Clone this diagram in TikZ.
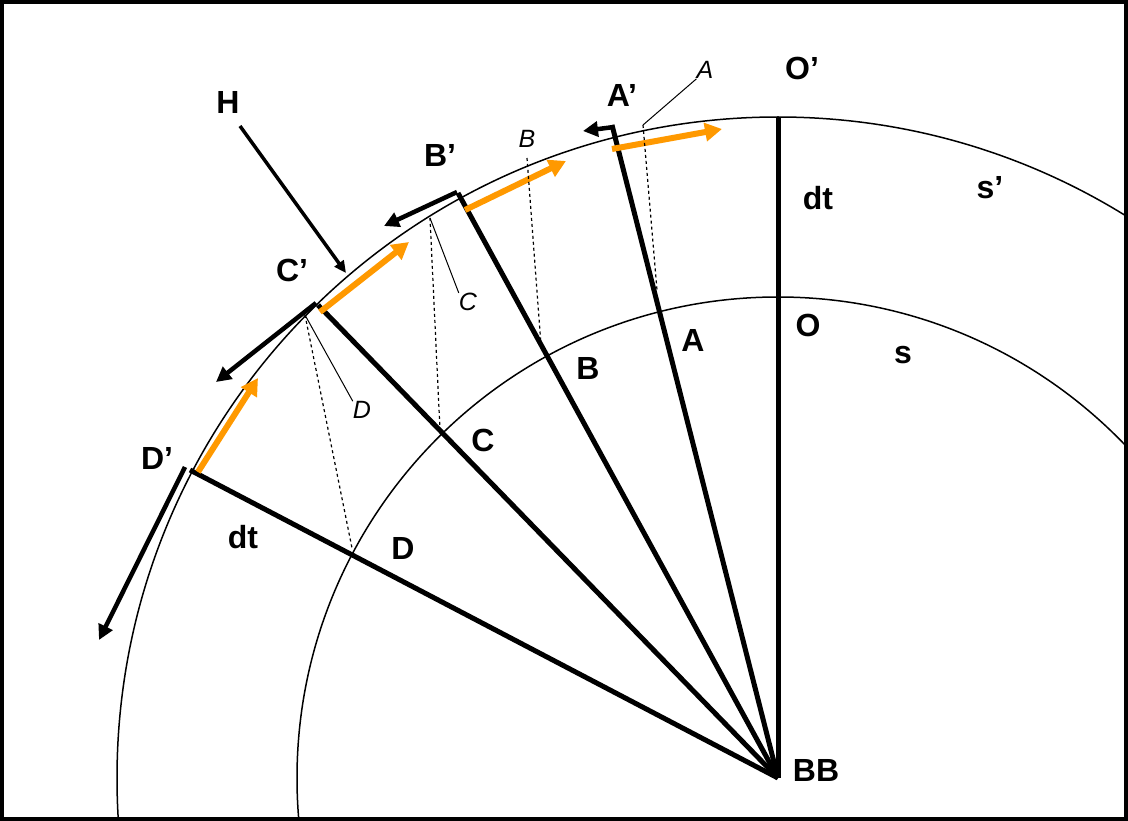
\documentclass[tikz,border=0pt]{standalone}
\usepackage{fontspec}
\setmainfont{Liberation Sans}
\usetikzlibrary{arrows.meta}
\begin{document}
\begin{tikzpicture}[x=1pt,y=-1pt,
 lab/.style={font=\fontsize{32}{36}\selectfont\bfseries,inner sep=0pt},
 ilab/.style={font=\fontsize{25}{28}\selectfont\itshape,inner sep=0pt},
 rad/.style={line width=5pt},
 blk/.style={line width=4.5pt,-{Triangle[length=15pt,width=15pt]}},
 org/.style={line width=6pt,draw={rgb,255:red,255;green,153;blue,0},-{Triangle[length=17pt,width=18pt]}},
 dsh/.style={dashed,line width=1.2pt},
 thin/.style={line width=1pt}]
\useasboundingbox (0,0) rectangle (1128,821);
\coordinate (BB) at (778,778);
\begin{scope}
\clip (0,0) rectangle (1128,821);
\draw[line width=1.5pt] (BB) circle[radius=661];
\draw[line width=1.5pt] (BB) circle[radius=481];
\end{scope}
\draw[line width=4pt] (2,2) rectangle (1126,819);
\coordinate (Op) at (778,117);
\coordinate (Ap) at (612,125);
\coordinate (Bp) at (458,193);
\coordinate (Cp) at (318,305);
\coordinate (Dp) at (190,470);
\draw[rad] (BB) -- (Op);
\draw[rad] (BB) -- (Ap);
\draw[rad] (BB) -- (Bp);
\draw[rad] (BB) -- (Cp);
\draw[rad] (BB) -- (Dp);
\coordinate (a1) at (614,127); \coordinate (a2) at (583,131);
\coordinate (b1) at (457,192); \coordinate (b2) at (384,226);
\coordinate (c1) at (316,303); \coordinate (c2) at (216,382);
\coordinate (d1) at (185,467); \coordinate (d2) at (99,640);
\draw[blk] (a1) -- (a2);
\draw[blk] (b1) -- (b2);
\draw[blk] (c1) -- (c2);
\draw[blk] (d1) -- (d2);
\coordinate (oa1) at (612,149); \coordinate (oa2) at (722,129);
\coordinate (ob1) at (465,210); \coordinate (ob2) at (566,161);
\coordinate (oc1) at (320,312); \coordinate (oc2) at (409,242);
\coordinate (od1) at (198,472); \coordinate (od2) at (258,378);
\draw[org] (oa1) -- (oa2);
\draw[org] (ob1) -- (ob2);
\draw[org] (oc1) -- (oc2);
\draw[org] (od1) -- (od2);
\coordinate (pa) at (643,125); \coordinate (qa) at (657,290);
\coordinate (pb) at (527,158); \coordinate (qb) at (541,345);
\coordinate (pc) at (430,218); \coordinate (qc) at (440,430);
\coordinate (pd) at (305,315); \coordinate (qd) at (352,548);
\draw[dsh] (pa) -- (qa);
\draw[dsh] (pb) -- (qb);
\draw[dsh] (pc) -- (qc);
\draw[dsh] (pd) -- (qd);
\node[lab] (lOp) at (802,68) {O’};
\node[lab] (lAp) at (622,95) {A’};
\node[lab] (lBp) at (440,155) {B’};
\node[lab] (lCp) at (292,270) {C’};
\node[lab] (lDp) at (157,458) {D’};
\node[lab] (lO) at (808,325) {O};
\node[lab] (lA) at (693,340) {A};
\node[lab] (lB) at (588,368) {B};
\node[lab] (lC) at (483,440) {C};
\node[lab] (lD) at (403,548) {D};
\node[lab] (ls) at (903,355) {s};
\node[lab] (lsp) at (990,188) {s’};
\node[lab] (ldt1) at (818,198) {dt};
\node[lab] (ldt2) at (243,537) {dt};
\node[lab] (lBB) at (816,770) {BB};
\node[lab] (lH) at (228,102) {H};
\node[ilab] (iA) at (705,70) {A};
\node[ilab] (iB) at (527,139) {B};
\node[ilab] (iC) at (468,302) {C};
\node[ilab] (iD) at (362,410) {D};
\draw[thin] (iA.south west) -- (pa);
\draw[thin] (iC.north west) -- (pc);
\draw[thin] (iD.north west) -- (pd);
\coordinate (Ht) at (346,273);
\draw[line width=3.5pt,-{Triangle[length=12pt,width=11pt]}] (240,126) -- (Ht);
\end{tikzpicture}
\end{document}
